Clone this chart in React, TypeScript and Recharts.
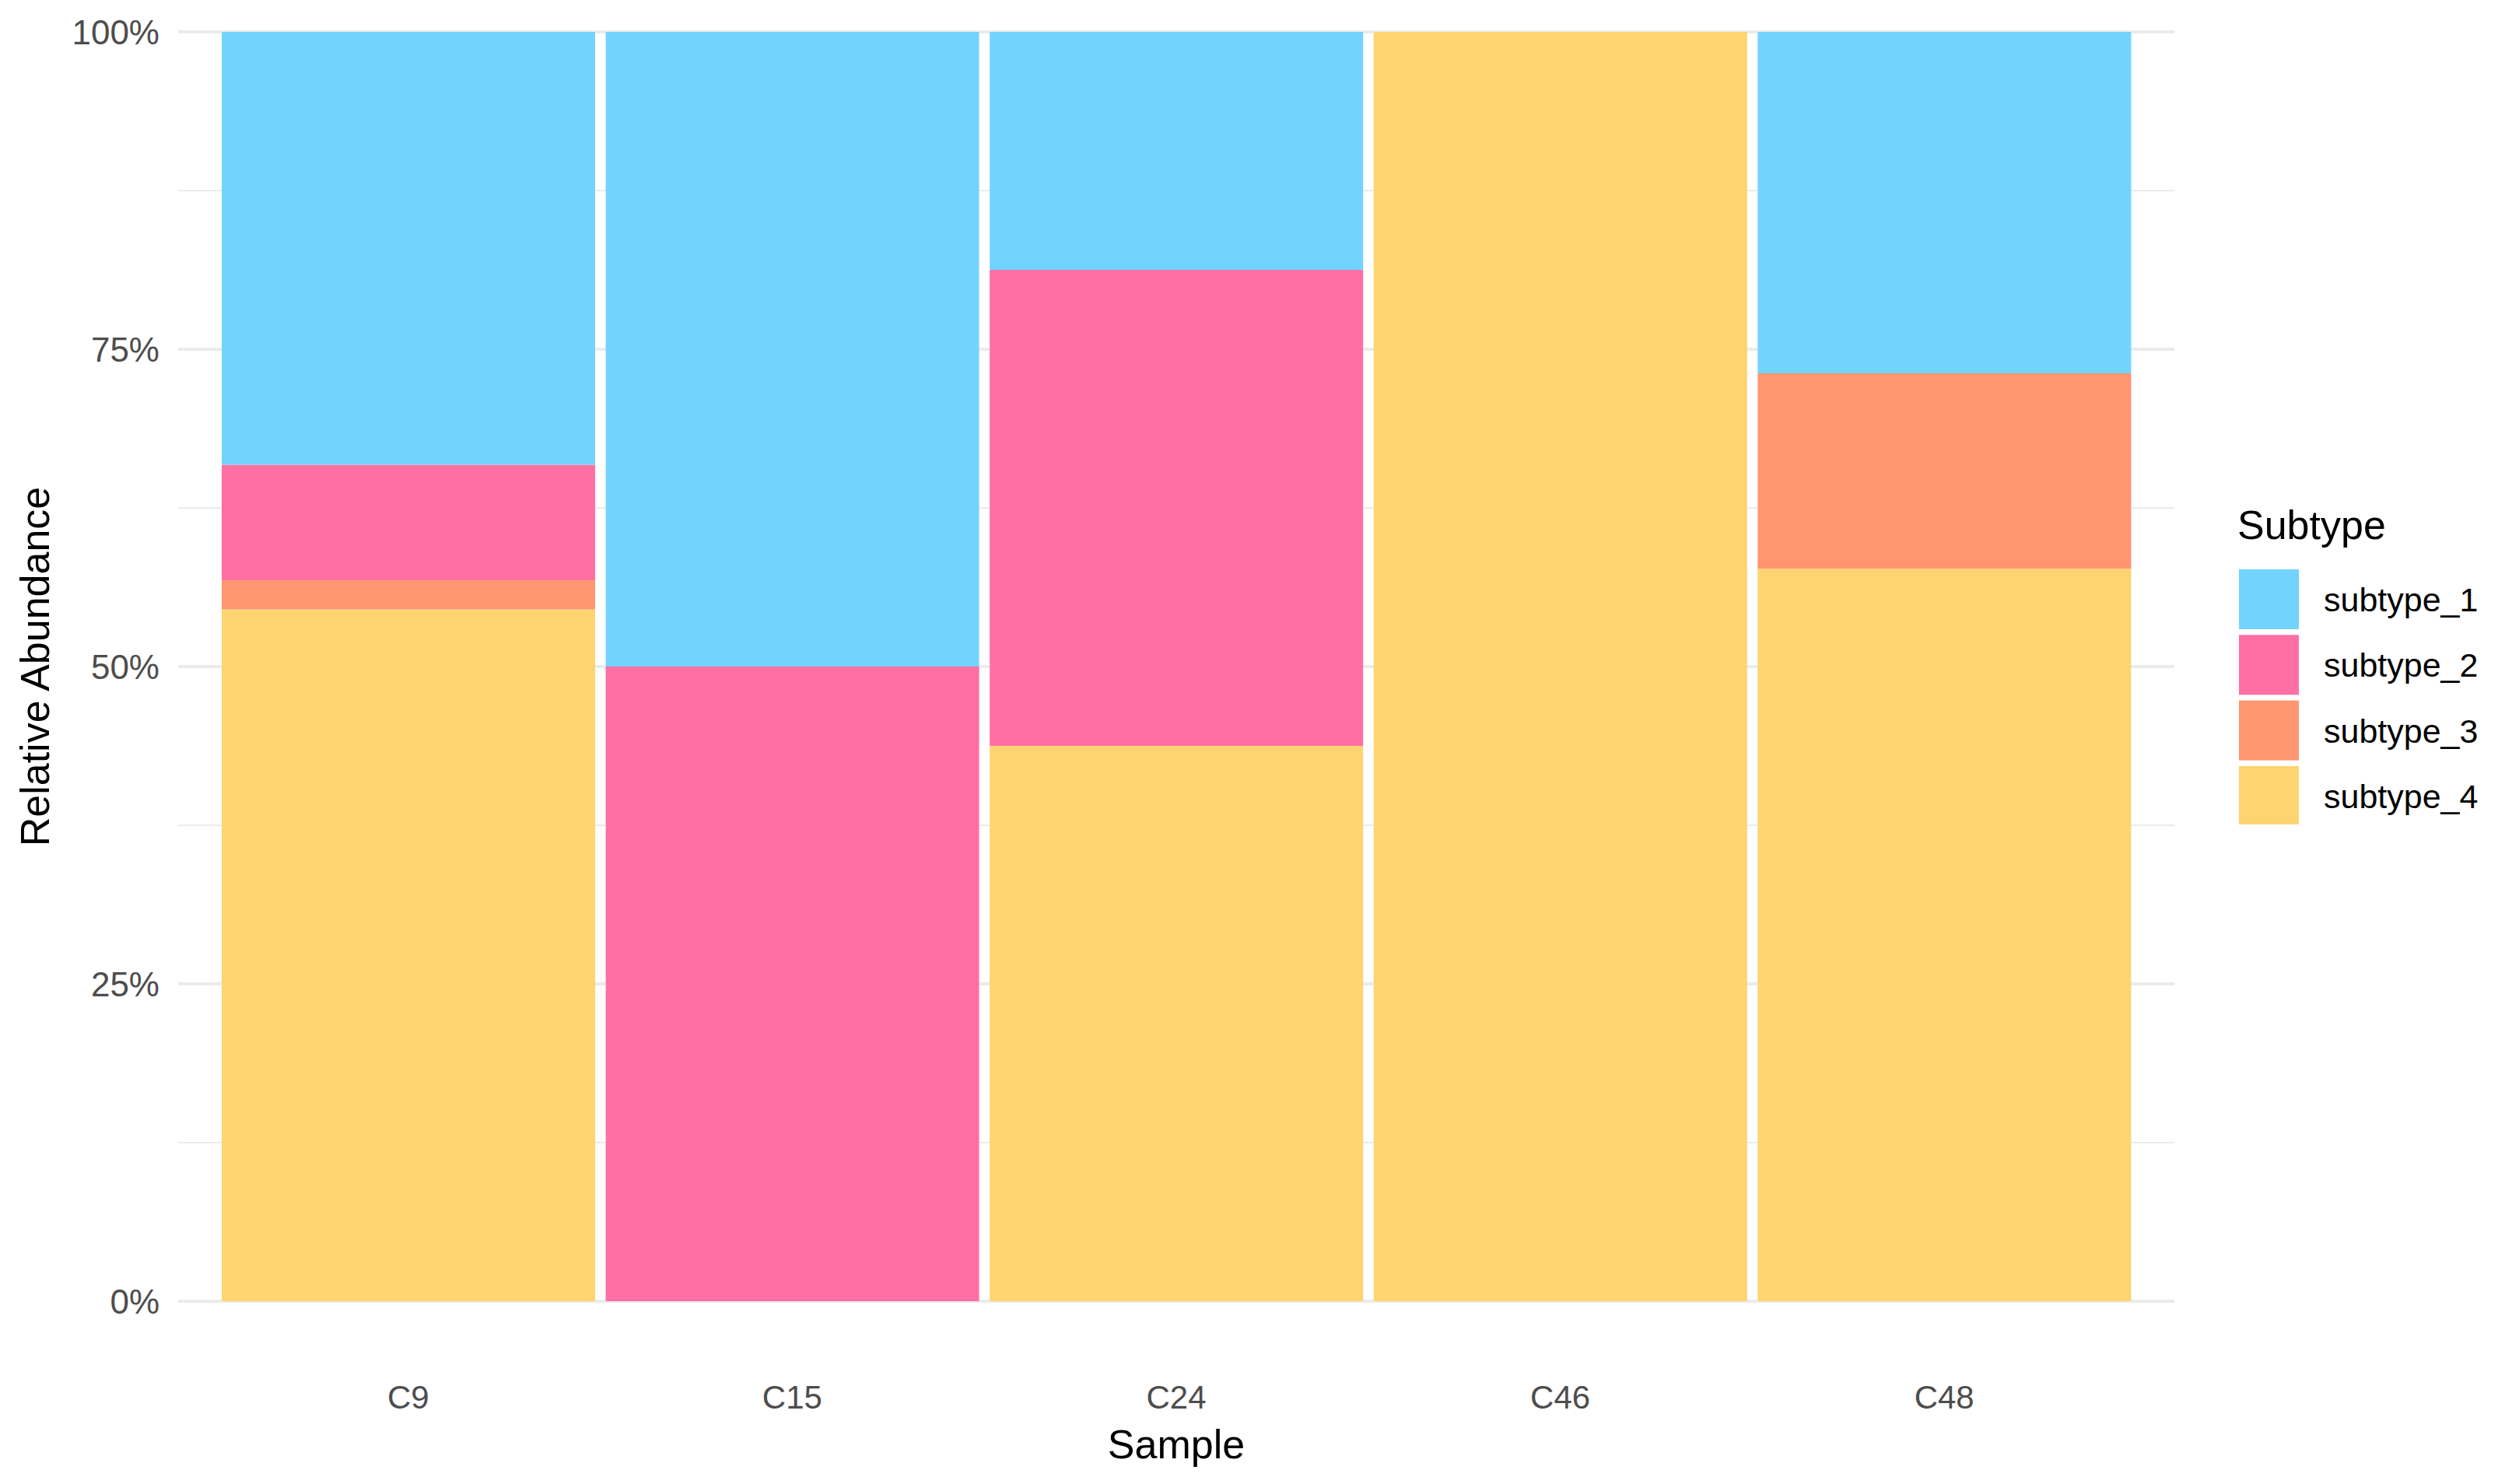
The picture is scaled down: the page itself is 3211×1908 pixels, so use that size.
import React from 'react';
import { BarChart, Bar, XAxis, YAxis, CartesianGrid } from 'recharts';

const samples = ['C9', 'C15', 'C24', 'C46', 'C48'];
const subtype1 = [0.341, 0.5, 0.1875, 0, 0.269];
const subtype2 = [0.091, 0.5, 0.375, 0, 0];
const subtype3 = [0.023, 0, 0, 0, 0.154];
const subtype4 = [0.545, 0, 0.4375, 1, 0.577];

const subtypeNames = ['subtype_1', 'subtype_2', 'subtype_3', 'subtype_4'];
const subtypeColors = ['#72D3FE', '#FF6FA4', '#FF9670', '#FED470'];
const yTicks = [0, 0.25, 0.5, 0.75, 1];
const yMinorTicks = [0.125, 0.375, 0.625, 0.875];
const yDomain: [number, number] = [0, 1];

const data = samples.map((s, i) => ({
  sample: s,
  subtype_1: subtype1[i],
  subtype_2: subtype2[i],
  subtype_3: subtype3[i],
  subtype_4: subtype4[i],
}));

const FONT = '"Liberation Sans", Arial, sans-serif';
const W = 3211;
const H = 1908;
const Y_AXIS_W = 229;
const X_AXIS_H = 235;

function minorGen(props: any) {
  const { yAxis, offset } = props;
  const sc = yAxis && yAxis.scale;
  return yMinorTicks.map((t) => {
    if (typeof sc === 'function') return sc(t);
    if (sc && typeof sc.map === 'function') return sc.map(t);
    const frac = (t - yDomain[0]) / (yDomain[1] - yDomain[0]);
    return offset.top + offset.height * (1 - frac);
  });
}

export default function App() {
  // stacking order: subtype_4 at the bottom, subtype_1 at the top
  const stackOrder = [3, 2, 1, 0];
  return (
    <div style={{ position: 'absolute', left: 0, top: 0, width: W, height: H, background: '#fff' }}>
      <BarChart
        width={W}
        height={H}
        data={data}
        margin={{ top: 41, right: 416, bottom: 0, left: 0 }}
        barCategoryGap={7}
      >
        <CartesianGrid
          vertical={false}
          stroke="#EBEBEB"
          strokeWidth={2}
          horizontalCoordinatesGenerator={minorGen}
        />
        <CartesianGrid vertical={false} stroke="#EBEBEB" strokeWidth={4} />
        <XAxis
          dataKey="sample"
          height={X_AXIS_H}
          padding={{ left: 49, right: 49 }}
          axisLine={false}
          tickLine={false}
          tickSize={6}
          tickMargin={102}
          tick={{ fill: '#4D4D4D', fontSize: 42, fontFamily: FONT }}
          label={{
            value: 'Sample',
            position: 'insideBottom',
            offset: 33,
            style: { fill: '#000', fontSize: 52, fontFamily: FONT },
          }}
        />
        <YAxis
          width={Y_AXIS_W}
          domain={yDomain}
          ticks={yTicks}
          interval={0}
          axisLine={false}
          tickLine={false}
          tickSize={6}
          tickMargin={18}
          tickFormatter={(v: number) => `${Math.round(v * 100)}%`}
          tick={{ fill: '#4D4D4D', fontSize: 44, fontFamily: FONT }}
          label={{
            value: 'Relative Abundance',
            angle: -90,
            position: 'insideLeft',
            offset: 45,
            style: { fill: '#000', fontSize: 52, fontFamily: FONT, textAnchor: 'middle' },
          }}
        />
        {stackOrder.map((idx) => (
          <Bar
            key={subtypeNames[idx]}
            dataKey={subtypeNames[idx]}
            stackId="a"
            fill={subtypeColors[idx]}
            isAnimationActive={false}
          />
        ))}
      </BarChart>
      <svg
        width={340}
        height={420}
        style={{ position: 'absolute', left: 2871, top: 640 }}
      >
        <text x={5} y={53} fontSize={52} fontFamily={FONT} fill="#000">
          Subtype
        </text>
        {subtypeNames.map((name, i) => (
          <g key={name}>
            <rect x={7} y={92 + i * 84.3} width={77} height={77} fill={subtypeColors[i]} />
            <text
              x={116}
              y={92 + i * 84.3 + 38.5}
              dy="0.36em"
              fontSize={43}
              fontFamily={FONT}
              fill="#000"
            >
              {name}
            </text>
          </g>
        ))}
      </svg>
    </div>
  );
}
